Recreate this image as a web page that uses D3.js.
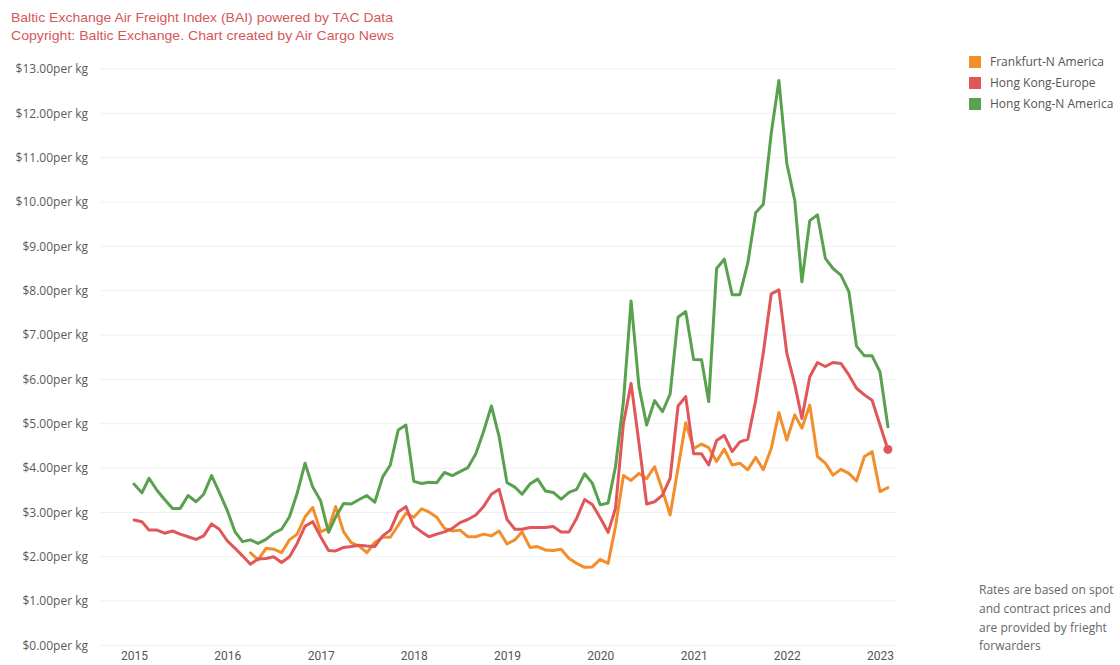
<!DOCTYPE html>
<html>
<head>
<meta charset="utf-8">
<script src="https://cdn.jsdelivr.net/npm/d3@7"></script>
<style>
  html, body { margin: 0; padding: 0; background: #fff; }
  svg { display: block; }
</style>
</head>
<body>
<svg id="chart" width="1120" height="665"></svg>
<script>
// ---------- DATA ----------
const startYear = 2015;            // first month: Jan 2015 (monthly series)
const yearLabels = ["2015","2016","2017","2018","2019","2020","2021","2022","2023"];
const yTickValues = [0,1,2,3,4,5,6,7,8,9,10,11,12,13];
const seriesNames = ["Frankfurt-N America", "Hong Kong-Europe", "Hong Kong-N America"];
const seriesColors = ["#f28e2b", "#e15759", "#59a14f"];

// Hong Kong-N America, Jan 2015 .. Feb 2023
const hkNAmerica = [
  3.64,3.44,3.77,3.50,3.29,3.09,3.09,3.38,3.24,3.41,3.83,3.45,
  3.05,2.56,2.34,2.38,2.30,2.39,2.53,2.62,2.90,3.43,4.11,3.57,
  3.26,2.55,2.90,3.20,3.19,3.29,3.38,3.23,3.80,4.07,4.86,4.97,
  3.70,3.65,3.68,3.67,3.90,3.83,3.92,4.01,4.32,4.82,5.40,4.71,
  3.67,3.57,3.41,3.64,3.75,3.48,3.45,3.30,3.45,3.52,3.87,3.66,
  3.17,3.21,4.03,5.50,7.77,5.83,4.97,5.52,5.27,5.67,7.40,7.53,
  6.45,6.44,5.50,8.50,8.71,7.91,7.91,8.62,9.76,9.95,11.55,12.74,
  10.87,10.04,8.20,9.58,9.71,8.73,8.50,8.35,7.98,6.75,6.53,6.53,
  6.17,4.93
];
// Hong Kong-Europe, Jan 2015 .. Feb 2023
const hkEurope = [
  2.83,2.79,2.60,2.60,2.53,2.58,2.51,2.45,2.39,2.47,2.74,2.62,
  2.36,2.19,2.02,1.83,1.95,1.96,2.00,1.87,2.00,2.30,2.69,2.79,
  2.45,2.14,2.13,2.21,2.23,2.26,2.24,2.23,2.47,2.60,3.01,3.13,
  2.69,2.56,2.45,2.51,2.56,2.64,2.77,2.84,2.94,3.13,3.41,3.52,
  2.84,2.62,2.62,2.66,2.66,2.66,2.68,2.56,2.56,2.87,3.29,3.18,
  2.88,2.55,3.09,5.00,5.91,4.56,3.19,3.24,3.39,3.77,5.40,5.61,
  4.32,4.32,4.07,4.62,4.74,4.37,4.59,4.65,5.52,6.60,7.93,8.02,
  6.59,5.89,5.12,6.06,6.38,6.29,6.38,6.36,6.10,5.80,5.65,5.53,
  4.97,4.42
];
// Frankfurt-N America, starts Apr 2016 (month index 15) .. Feb 2023
const frankfurtStart = 15;
const frankfurtNAmerica = [
  2.09,1.93,2.19,2.17,2.09,2.38,2.51,2.90,3.11,
  2.56,2.64,3.13,2.56,2.32,2.24,2.09,2.32,2.44,2.44,2.71,2.98,
  2.89,3.08,3.01,2.89,2.64,2.58,2.60,2.45,2.45,2.51,2.47,2.58,
  2.29,2.38,2.56,2.21,2.23,2.15,2.14,2.17,1.96,1.85,1.76,1.77,
  1.94,1.85,2.68,3.83,3.72,3.88,3.76,4.03,3.50,2.94,4.00,5.02,
  4.44,4.54,4.46,4.15,4.43,4.07,4.11,3.96,4.24,3.96,4.44,5.25,
  4.63,5.20,4.90,5.42,4.26,4.11,3.84,3.97,3.88,3.71,4.26,4.37,
  3.47,3.56
];

const noteLines = ["Rates are based on spot", "and contract prices and", "are provided by frieght", "forwarders"];
const titleLines = ["Baltic Exchange Air Freight Index (BAI) powered by TAC Data",
                    "Copyright: Baltic Exchange. Chart created by Air Cargo News"];

// ---------- BUILD ----------
const monthDate = i => new Date(startYear, i, 1);
const toPoints = (vals, offset) => vals.map((v, i) => ({ date: monthDate(i + offset), value: v }));
const series = [
  { name: seriesNames[0], color: seriesColors[0], points: toPoints(frankfurtNAmerica, frankfurtStart) },
  { name: seriesNames[1], color: seriesColors[1], points: toPoints(hkEurope, 0) },
  { name: seriesNames[2], color: seriesColors[2], points: toPoints(hkNAmerica, 0) }
];

const svg = d3.select("#chart");
svg.append("rect").attr("width", 1120).attr("height", 665).attr("fill", "#fff");

const x = d3.scaleTime()
  .domain([new Date(2015, 0, 1), new Date(2023, 0, 1)])
  .range([134, 880]);
const y = d3.scaleLinear().domain([0, 13]).range([645.4, 69]);

// gridlines
svg.append("g").selectAll("line").data(yTickValues).join("line")
  .attr("x1", 100).attr("x2", 896)
  .attr("y1", d => y(d)).attr("y2", d => y(d))
  .attr("stroke", "#f0f0f0").attr("stroke-width", 1);

// y axis labels
const yAxis = d3.axisLeft(y).tickValues(yTickValues)
  .tickFormat(d => "$" + d3.format(".2f")(d) + "per kg").tickSize(0).tickPadding(0);
const yg = svg.append("g").attr("transform", "translate(88,0)").call(yAxis);
yg.select(".domain").remove();
yg.selectAll("text").attr("font-family", "'Open Sans', sans-serif")
  .attr("font-size", 12).attr("fill", "#5a5a5a");

// x axis labels
const xAxis = d3.axisBottom(x)
  .tickValues(yearLabels.map(s => new Date(+s, 0, 1)))
  .tickFormat(d3.timeFormat("%Y")).tickSize(0).tickPadding(0);
const xg = svg.append("g").attr("transform", "translate(0,651)").call(xAxis);
xg.select(".domain").remove();
xg.selectAll("text").attr("font-family", "Roboto, sans-serif")
  .attr("font-size", 12).attr("fill", "#555").attr("dy", "0.71em");

// lines
const line = d3.line().x(d => x(d.date)).y(d => y(d.value));
svg.append("g").selectAll("path").data(series).join("path")
  .attr("d", d => line(d.points))
  .attr("fill", "none")
  .attr("stroke", d => d.color)
  .attr("stroke-width", 3)
  .attr("stroke-linejoin", "round")
  .attr("stroke-linecap", "round");

// end dot on Hong Kong-Europe
const hkE = series[1].points[series[1].points.length - 1];
svg.append("circle").attr("cx", x(hkE.date)).attr("cy", y(hkE.value))
  .attr("r", 4.5).attr("fill", seriesColors[1]);

// title
svg.append("g").selectAll("text").data(titleLines).join("text")
  .attr("x", 11).attr("y", (d, i) => 22 + i * 18)
  .attr("font-family", "'Liberation Sans', Arial, sans-serif")
  .attr("font-size", 13.5).attr("fill", "#d4585a")
  .attr("textLength", (d, i) => i === 0 ? 382 : 383)
  .attr("lengthAdjust", "spacingAndGlyphs")
  .text(d => d);

// legend
const lg = svg.append("g").selectAll("g").data(series).join("g")
  .attr("transform", (d, i) => `translate(969,${56 + i * 21})`);
lg.append("rect").attr("width", 12).attr("height", 12).attr("fill", d => d.color);
lg.append("text").attr("x", 21).attr("y", 6).attr("dy", "0.35em")
  .attr("font-family", "'Open Sans', sans-serif").attr("font-size", 12)
  .attr("fill", "#555").text(d => d.name);

// note
svg.append("g").selectAll("text").data(noteLines).join("text")
  .attr("x", 979).attr("y", (d, i) => 590 + i * 18.7).attr("dy", "0.35em")
  .attr("font-family", "'Open Sans', sans-serif").attr("font-size", 12)
  .attr("fill", "#666").text(d => d);
</script>
</body>
</html>
